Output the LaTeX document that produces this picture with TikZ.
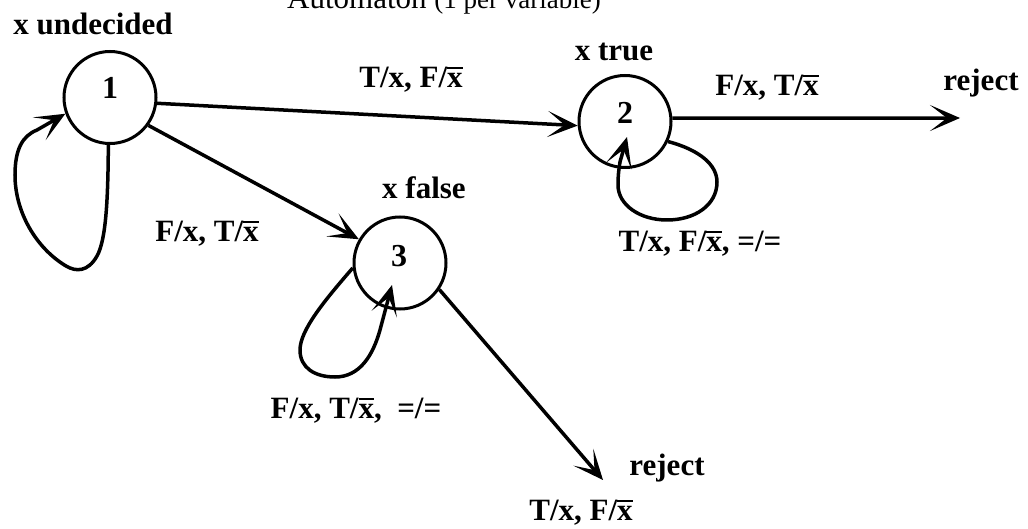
\documentclass[tikz,border=0pt]{standalone}
\usepackage{fontspec}
\setmainfont{Liberation Serif}
\usetikzlibrary{arrows.meta}
\newcommand{\xb}{\leavevmode\rlap{\raisebox{0.6em}{\rule{0.5em}{0.07em}}}x}
\tikzset{
  state/.style={circle,draw,line width=3pt,minimum size=92pt,inner sep=0pt},
  digit/.style={font=\fontsize{32}{36}\selectfont\bfseries,inner sep=0pt},
  lab/.style={font=\fontsize{31}{36}\selectfont\bfseries,inner sep=0pt},
  edge/.style={line width=3.5pt,-{Stealth[length=30pt,width=26pt,inset=17pt]}},
}
\begin{document}
\begin{tikzpicture}[x=1pt,y=-1pt]
\useasboundingbox (0,0) rectangle (1028,529);
% title
\node[anchor=base west,inner sep=0pt] (title) at (287,9)
  {\fontsize{31}{36}\selectfont Automaton \fontsize{27}{32}\selectfont(1 per variable)};
% states
\node[state] (n1) at (110,97.5) {};
\node[state] (n2) at (625,121.5) {};
\node[state] (n3) at (400,263) {};
\node[digit] (d1) at (110,88) {1};
\node[digit] (d2) at (625,113) {2};
\node[digit] (d3) at (399,256) {3};
% state names
\node[lab] (s1) at (93,24) {x undecided};
\node[lab] (s2) at (614,52) {x true};
\node[lab] (s3) at (424,188) {x false};
\node[lab] (r2) at (981,83) {reject};
\node[lab] (r3) at (667,468) {reject};
% free ends
\coordinate (e2) at (960,118);
\coordinate (e3) at (603,480);
\coordinate (t2) at (627,137);
\coordinate (t3) at (392,285);
% edges
\draw[edge] (n1.-7) -- (n2.185);
\draw[edge] (n1.-36) -- (n3.150);
\draw[edge] (n2.4) -- (e2);
\draw[edge] (n3.-34) -- (e3);
% loops
\draw[edge] (n1.-92) .. controls (108,200) and (106,240) .. (97,256)
  .. controls (88,272) and (76,272) .. (66,266)
  .. controls (36,248) and (15,212) .. (15,175)
  .. controls (15,150) and (22,136) .. (37,130) -- (n1.200);
\draw[edge] (n2.-25) .. controls (700,150) and (717,165) .. (717,182)
  .. controls (717,205) and (695,220) .. (667,220)
  .. controls (640,220) and (618,205) .. (618,185)
  .. controls (618,175) and (619,168) .. (620,162) -- (t2);
\draw[edge] (n3.186) .. controls (325,300) and (300,330) .. (300,350)
  .. controls (300,368) and (315,377) .. (335,377)
  .. controls (360,377) and (373,355) .. (380,330) -- (t3);
% edge labels
\node[lab] (l12) at (411,80) {T/x, F/\xb};
\node[lab] (l13) at (207,234) {F/x, T/\xb};
\node[lab] (l2r) at (767,88) {F/x, T/\xb};
\node[lab] (l22) at (700,244) {T/x, F/\xb, =/=};
\node[lab] (l33) at (356,411) {F/x, T/\xb,\ \ =/=};
\node[lab] (l3r) at (581,513) {T/x, F/\xb};
\end{tikzpicture}
\end{document}
